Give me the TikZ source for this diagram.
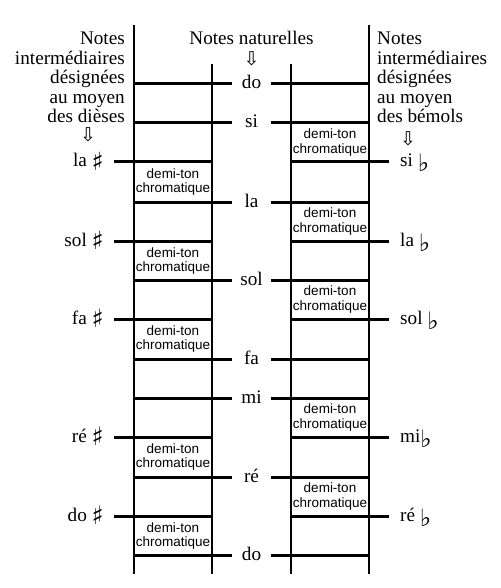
\documentclass[tikz,border=0pt]{standalone}
\usepackage{fontspec}
\setmainfont{Liberation Serif}
\setsansfont{Liberation Sans}
\newfontfamily\symf{DejaVu Sans}
\newcommand{\shp}{\raisebox{-3pt}{\symf\fontsize{25}{25}\selectfont ♯}}
\newcommand{\flt}{\raisebox{-5pt}{\symf\fontsize{24}{24}\selectfont ♭}}
\newcommand{\darr}{{\symf\fontsize{19}{19}\selectfont ⇩}}
\begin{document}
\begin{tikzpicture}[x=1pt,y=-1pt,
  vline/.style={line width=1.5pt},
  hline/.style={line width=3pt},
  lbl/.style={font=\fontsize{19.2}{19.5}\selectfont, inner sep=0pt},
  dtc/.style={font=\sffamily\fontsize{13.5}{14.5}\selectfont, align=center, inner sep=0pt}
]
\useasboundingbox (0,0) rectangle (500,588);
\fill[white] (0,0) rectangle (500,588);
% vertical lines
\coordinate (L1t) at (134,25);  \coordinate (L1b) at (134,574);
\coordinate (L2t) at (212,64);  \coordinate (L2b) at (212,574);
\coordinate (R2t) at (291,64);  \coordinate (R2b) at (291,574);
\coordinate (R1t) at (369,25);  \coordinate (R1b) at (369,574);
\draw[vline] (L1t) -- (L1b);
\draw[vline] (L2t) -- (L2b);
\draw[vline] (R2t) -- (R2b);
\draw[vline] (R1t) -- (R1b);
% headings
\foreach \t [count=\i] in {Notes,intermédiaires,désignées,au moyen,des dièses}
  \node[lbl, anchor=base east] (hl\i) at (125,{45+19.5*(\i-1)}) {\t};
\foreach \t [count=\i] in {Notes,intermédiaires,désignées,au moyen,des bémols}
  \node[lbl, anchor=base west] (hr\i) at (377,{45+19.5*(\i-1)}) {\t};
\node[lbl, anchor=base] (hm) at (251.5,45) {Notes naturelles};
\node[inner sep=0pt] (al) at (88,134.5) {\darr};
\node[inner sep=0pt] (am) at (251.5,59) {\darr};
\node[inner sep=0pt] (ar) at (408,138.5) {\darr};
% natural notes
\foreach \n/\y [count=\i] in {do/84,si/123,la/202,sol/280,fa/359,mi/398,ré/477,do/555}{
  \node[lbl, anchor=base] (n\i) at (251.5,\y+5) {\n};
  \coordinate (na\i) at (134,\y); \coordinate (nb\i) at (232,\y);
  \coordinate (nc\i) at (271,\y); \coordinate (nd\i) at (369,\y);
  \draw[hline] (na\i) -- (nb\i);
  \draw[hline] (nc\i) -- (nd\i);
}
% sharps
\foreach \n/\y [count=\i] in {la/162,sol/241,fa/319,ré/437,do/516}{
  \node[lbl, anchor=base east] (s\i) at (104,\y+5) {\n\ \shp};
  \coordinate (sa\i) at (114,\y); \coordinate (sb\i) at (212,\y);
  \draw[hline] (sa\i) -- (sb\i);
  \node[dtc] (ds\i) at (173,\y+20) {demi-ton\\chromatique};
}
% flats
\foreach \n/\y/\sp [count=\i] in {si/162/\ ,la/241/\ ,sol/319/\ ,mi/437/,ré/516/\ }{
  \node[lbl, anchor=base west] (f\i) at (400,\y+5) {\n\sp\flt};
  \coordinate (fa\i) at (291,\y); \coordinate (fb\i) at (389,\y);
  \draw[hline] (fa\i) -- (fb\i);
  \node[dtc] (df\i) at (330,\y-19.5) {demi-ton\\chromatique};
}
\end{tikzpicture}
\end{document}
